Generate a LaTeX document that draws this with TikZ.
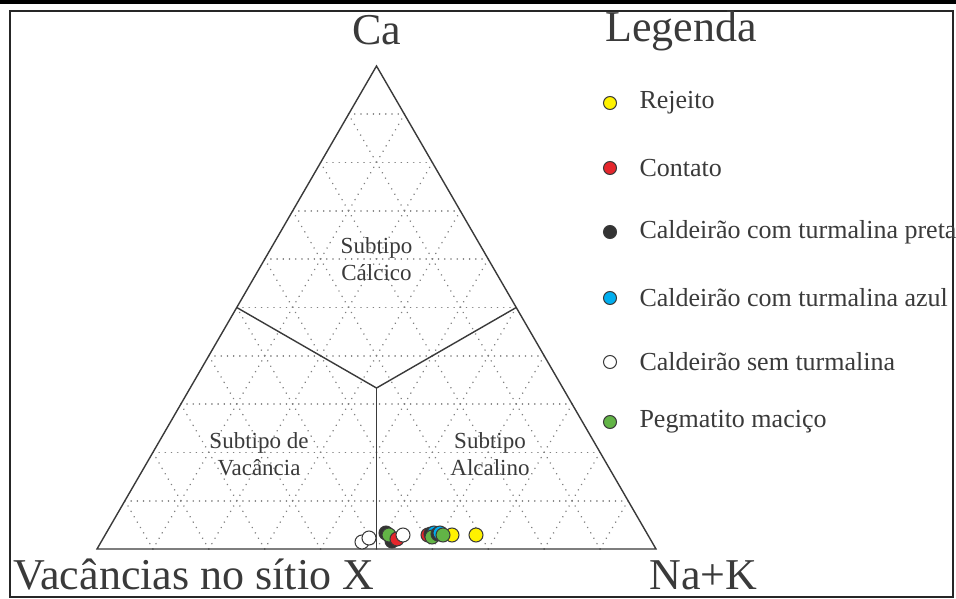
\documentclass[tikz,border=0pt]{standalone}
\usepackage{fontspec}
\setmainfont{Liberation Serif}
\usepackage{xcolor}
\usepackage{tikz}
\definecolor{rejeito}{HTML}{FFF200}
\definecolor{contato}{HTML}{E5262C}
\definecolor{preta}{HTML}{333333}
\definecolor{azul}{HTML}{00AEEF}
\definecolor{macico}{HTML}{62B446}
\definecolor{tinta}{HTML}{3A3A3A}
\tikzset{
  ponto/.style={circle,draw=tinta,line width=1pt,minimum size=14pt,inner sep=0pt},
  grade/.style={draw=black!50,line width=1.7pt,dash pattern=on 0.01pt off 6.2pt,line cap=round},
  borda/.style={draw=tinta,line width=1.4pt},
  grande/.style={text=tinta,font=\fontsize{44}{48}\selectfont},
  campo/.style={text=tinta,align=center,font=\fontsize{23}{27}\selectfont},
  legtxt/.style={text=tinta,anchor=west,font=\fontsize{26}{29}\selectfont}
}
\begin{document}
\begin{tikzpicture}[x=1pt,y=-1pt]
\useasboundingbox (0,0) rectangle (956,599);
\fill[white] (0,0) rectangle (956,599);
\draw[line width=3.5pt] (0,2)--(956,2);
\draw[line width=1.6pt,black!85] (10,11) rectangle (953,597);

 \coordinate (A) at (97,549);
 \coordinate (B) at (656,549);
 \coordinate (C) at (376.5,66);
 \coordinate (mAC) at (236.75,307.5);
 \coordinate (mBC) at (516.25,307.5);
 \coordinate (mAB) at (376.5,549);
 \coordinate (G) at (376.5,388);

 \draw[grade] (124.95,500.7)--(628.05,500.7);
 \draw[grade] (152.9,452.4)--(600.1,452.4);
 \draw[grade] (180.85,404.1)--(572.15,404.1);
 \draw[grade] (208.8,355.8)--(544.2,355.8);
 \draw[grade] (236.75,307.5)--(516.25,307.5);
 \draw[grade] (264.7,259.2)--(488.3,259.2);
 \draw[grade] (292.65,210.9)--(460.35,210.9);
 \draw[grade] (320.6,162.6)--(432.4,162.6);
 \draw[grade] (348.55,114.3)--(404.45,114.3);

 \draw[grade] (152.9,549)--(404.45,114.3);
 \draw[grade] (208.8,549)--(432.4,162.6);
 \draw[grade] (264.7,549)--(460.35,210.9);
 \draw[grade] (320.6,549)--(488.3,259.2);
 \draw[grade] (376.5,549)--(516.25,307.5);
 \draw[grade] (432.4,549)--(544.2,355.8);
 \draw[grade] (488.3,549)--(572.15,404.1);
 \draw[grade] (544.2,549)--(600.1,452.4);
 \draw[grade] (600.1,549)--(628.05,500.7);

 \draw[grade] (152.9,549)--(124.95,500.7);
 \draw[grade] (208.8,549)--(152.9,452.4);
 \draw[grade] (264.7,549)--(180.85,404.1);
 \draw[grade] (320.6,549)--(208.8,355.8);
 \draw[grade] (376.5,549)--(236.75,307.5);
 \draw[grade] (432.4,549)--(264.7,259.2);
 \draw[grade] (488.3,549)--(292.65,210.9);
 \draw[grade] (544.2,549)--(320.6,162.6);
 \draw[grade] (600.1,549)--(348.55,114.3);

 \draw[borda,line join=miter] (A)--(B)--(C)--cycle;
 \draw[borda] (mAC)--(G);
 \draw[borda] (mBC)--(G);
 \draw[borda] (G)--(mAB);

 \node at (376.5,30) [grande] (ca) {Ca};
 \node at (602,31) [grande,anchor=west] (leg) {Legenda};
 \node at (10,589) [grande,anchor=base west] (vac) {Vacâncias no sítio X};
 \node at (646,589) [grande,anchor=base west] (nak) {Na+K};

 \node at (376.5,259) [campo] (calc) {Subtipo\\Cálcico};
 \node at (259,454) [campo] (vacan) {Subtipo de\\Vacância};
 \node at (490,454) [campo] (alc) {Subtipo\\Alcalino};

 \node at (362,542) [ponto,fill=white] (p1) {};
 \node at (369,538) [ponto,fill=white] (p2) {};
 \node at (386,533) [ponto,fill=preta] (p3) {};
 \node at (392,541) [ponto,fill=preta] (p4) {};
 \node at (389,535) [ponto,fill=macico] (p5) {};
 \node at (397,539) [ponto,fill=contato] (p6) {};
 \node at (403,535) [ponto,fill=white] (p7) {};
 \node at (428,535) [ponto,fill=contato] (p8) {};
 \node at (431,534) [ponto,fill=preta] (p9) {};
 \node at (434,533) [ponto,fill=azul] (p10) {};
 \node at (432,537) [ponto,fill=macico] (p11) {};
 \node at (438,534) [ponto,fill=preta] (p12) {};
 \node at (440,533) [ponto,fill=azul] (p13) {};
 \node at (452,535) [ponto,fill=rejeito] (p14) {};
 \node at (443,535) [ponto,fill=macico] (p15) {};
 \node at (476,535) [ponto,fill=rejeito] (p16) {};

 \node at (610,103) [ponto,fill=rejeito,minimum size=13pt] (l1) {};
 \node at (610,168) [ponto,fill=contato,minimum size=13pt] (l2) {};
 \node at (610,232) [ponto,fill=preta,minimum size=13pt] (l3) {};
 \node at (610,298) [ponto,fill=azul,minimum size=13pt] (l4) {};
 \node at (610,362) [ponto,fill=white,minimum size=13pt] (l5) {};
 \node at (610,422) [ponto,fill=macico,minimum size=13pt] (l6) {};
 \node at (636,103) [legtxt] (t1) {Rejeito};
 \node at (636,168) [legtxt] (t2) {Contato};
 \node at (636,232) [legtxt] (t3) {Caldeirão com turmalina preta};
 \node at (636,298) [legtxt] (t4) {Caldeirão com turmalina azul};
 \node at (636,362) [legtxt] (t5) {Caldeirão sem turmalina};
 \node at (636,422) [legtxt] (t6) {Pegmatito maciço};
\end{tikzpicture}
\end{document}
